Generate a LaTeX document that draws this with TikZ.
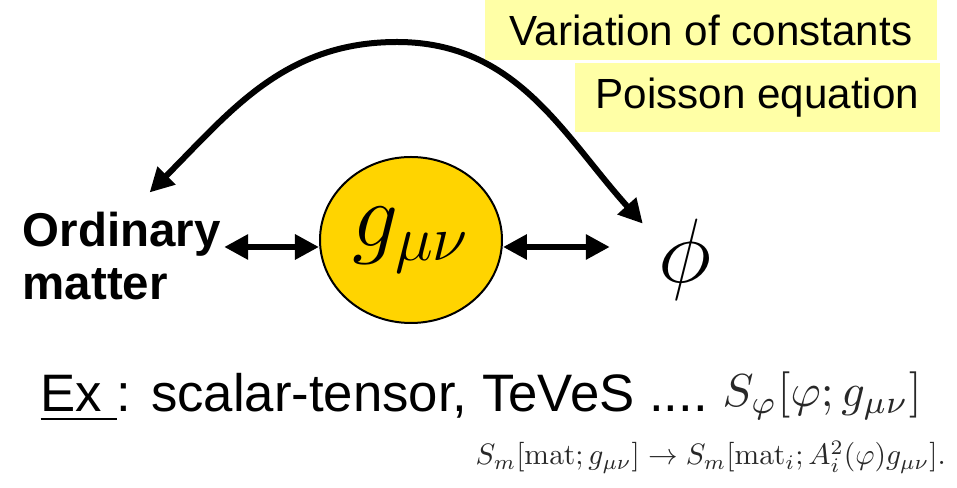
\RequirePackage{fix-cm}
\documentclass[tikz,border=0pt]{standalone}
\usepackage{amsmath,amssymb,graphicx}
\usepackage[no-math]{fontspec}
\setmainfont{Liberation Sans}
\usepackage{tikz}
\usetikzlibrary{calc, positioning, arrows.meta, shapes.geometric}
\definecolor{notecolour}{RGB}{255,255,166}
\definecolor{metricgold}{RGB}{255,212,0}
\definecolor{eqgrey}{RGB}{40,40,40}

\begin{document}
\begin{tikzpicture}[
  note/.style={fill=notecolour, inner sep=0pt, font=\fontsize{12}{14}\selectfont},
  dbl/.style={line width=0.06cm, {Triangle[length=0.24cm,width=0.24cm]}-{Triangle[length=0.24cm,width=0.24cm]}},
  eqn/.style={anchor=base west, inner sep=0pt, text=eqgrey}]
  \useasboundingbox (0,0) rectangle (9.57,4.88);
  % notes, top right
  \node[note, minimum width=4.52cm, minimum height=0.60cm] (vary) at (7.11,4.58) {Variation of constants};
  \node[note, minimum width=3.65cm, minimum height=0.69cm] (poisson) at (7.575,3.905) {Poisson equation};
  % metric, matter, scalar field
  \node[ellipse, draw, line width=0.02cm, fill=metricgold, minimum width=1.82cm, minimum height=1.66cm, inner sep=0pt] (gmn) at (4.11,2.48) {\fontsize{26}{30}\selectfont $g_{\mu\nu}$};
  \node[anchor=west, inner sep=0.03cm, align=left, font=\fontsize{13.5}{15}\selectfont\bfseries] (om) at (0.19,2.32) {Ordinary\\matter};
  \node[inner sep=0.03cm] (phi) at (6.85,2.28) {\fontsize{26}{30}\selectfont $\phi$};
  \coordinate (phiend) at ([xshift=-0.45cm]phi.west);
  \coordinate (top) at (3.97,4.46);
  \draw[dbl] ([yshift=-0.07cm]gmn.west) -- ([yshift=-0.07cm]gmn.west -| om.east);
  \draw[dbl] ([yshift=-0.07cm]gmn.east) -- ([yshift=-0.07cm]gmn.east -| phiend);
  \draw[dbl] ([shift={(0.28,0.16)}]om.north) to[out=45,in=180] (top) to[out=0,in=132] ([shift={(-0.12,-0.08)}]phi.north west);
  % example line and actions
  \node[anchor=base west, inner sep=0pt, font=\fontsize{15}{17}\selectfont] (ex) at (0.40,0.76) {\underline{Ex\ }: scalar-tensor, TeVeS ....};
  \node[eqn] (sphi) at (7.22,0.81) {\resizebox{1.99cm}{!}{$S_\varphi[\varphi; g_{\mu\nu}]$}};
  \node[eqn] (smat) at (4.75,0.23) {\resizebox{4.70cm}{!}{$S_m[\mathrm{mat}; g_{\mu\nu}] \rightarrow S_m[\mathrm{mat}_i; A_i^2(\varphi) g_{\mu\nu}].$}};
\end{tikzpicture}
\end{document}
